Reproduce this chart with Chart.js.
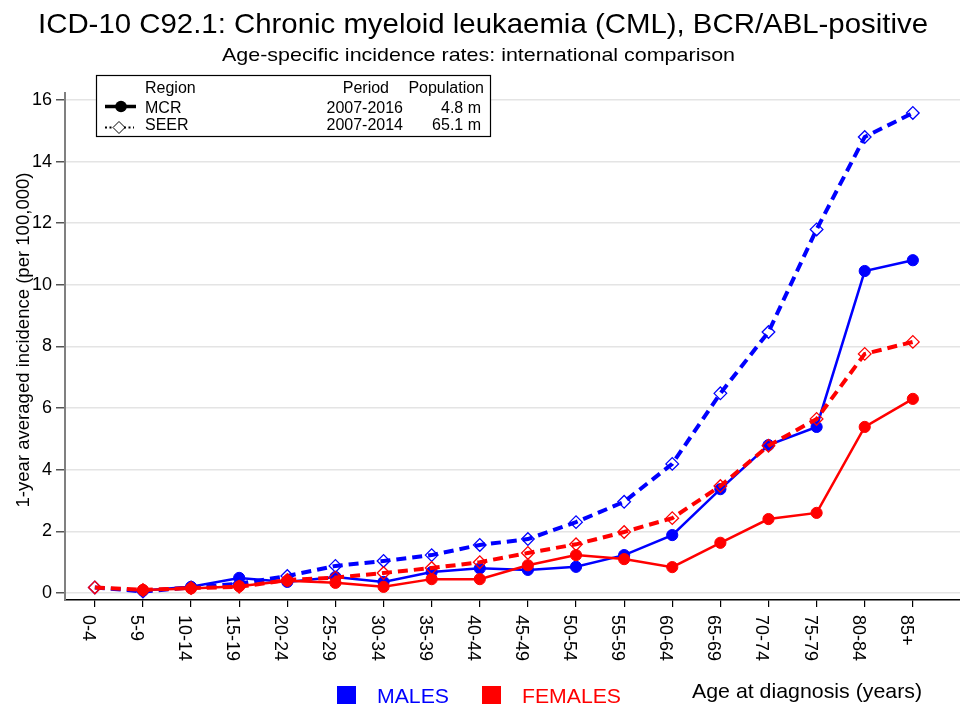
<!DOCTYPE html>
<html>
<head>
<meta charset="utf-8">
<script src="https://cdn.jsdelivr.net/npm/chart.js@4.4.1/dist/chart.umd.min.js"></script>
<style>
  html, body { margin: 0; padding: 0; background: #fff; }
  #wrap { width: 960px; height: 709px; }
</style>
</head>
<body>
<div id="wrap"><canvas id="chart" width="960" height="709"></canvas></div>
<script>
  // age groups on the x axis
  const ageGroups = ["0-4", "5-9", "10-14", "15-19", "20-24", "25-29", "30-34", "35-39", "40-44",
    "45-49", "50-54", "55-59", "60-64", "65-69", "70-74", "75-79", "80-84", "85+"];

  // rates per 100,000
  const malesMCR = [null, 0.08, 0.2, 0.49, 0.36, 0.52, 0.36, 0.68, 0.8, 0.75, 0.85, 1.23, 1.88, 3.37, 4.8, 5.39, 10.45, 10.8];
  const femalesMCR = [null, 0.1, 0.15, 0.22, 0.4, 0.33, 0.2, 0.45, 0.45, 0.9, 1.23, 1.1, 0.84, 1.63, 2.4, 2.6, 5.39, 6.3];
  const malesSEER = [0.18, 0.05, 0.18, 0.3, 0.55, 0.88, 1.04, 1.23, 1.56, 1.75, 2.3, 2.96, 4.19, 6.48, 8.47, 11.8, 14.8, 15.58];
  const femalesSEER = [0.18, 0.1, 0.16, 0.2, 0.42, 0.5, 0.65, 0.81, 1.0, 1.3, 1.58, 1.98, 2.43, 3.47, 4.78, 5.65, 7.76, 8.15];

  const yTicks = [0, 2, 4, 6, 8, 10, 12, 14, 16];

  const legendRows = [
    { region: "MCR", period: "2007-2016", population: "4.8 m" },
    { region: "SEER", period: "2007-2014", population: "65.1 m" }
  ];

  const FONT = "'Liberation Sans', Arial, Helvetica, sans-serif";
  const BLUE = "#0000ff";
  const RED = "#ff0000";

  const toPoints = (arr) => arr.map((v, i) => ({ x: i, y: v }));

  // text squeezed horizontally to a given width, like the Stata output
  function fitText(ctx, text, x, y, size, width, color) {
    ctx.save();
    ctx.font = size + "px " + FONT;
    ctx.fillStyle = color || "#000";
    ctx.textAlign = "left";
    ctx.textBaseline = "alphabetic";
    const w = ctx.measureText(text).width;
    ctx.translate(x, y);
    if (width) ctx.scale(width / w, 1);
    ctx.fillText(text, 0, 0);
    ctx.restore();
  }

  const decorPlugin = {
    id: "decorPlugin",
    afterDraw(chart) {
      const { ctx } = chart;
      const xScale = chart.scales.x;

      // titles
      fitText(ctx, "ICD-10 C92.1: Chronic myeloid leukaemia (CML), BCR/ABL-positive", 38, 33, 28, 890);
      fitText(ctx, "Age-specific incidence rates: international comparison", 222, 61, 18.5, 513);

      // y axis title
      ctx.save();
      ctx.font = "18.5px " + FONT;
      ctx.fillStyle = "#000";
      const yTitle = "1-year averaged incidence (per 100,000)";
      const tw = ctx.measureText(yTitle).width;
      ctx.translate(29, 340);
      ctx.rotate(-Math.PI / 2);
      ctx.scale(335 / tw, 1);
      ctx.textAlign = "center";
      ctx.textBaseline = "alphabetic";
      ctx.fillText(yTitle, 0, 0);
      ctx.restore();

      // x tick labels, turned clockwise
      ctx.save();
      ctx.font = "18px " + FONT;
      ctx.fillStyle = "#000";
      ctx.textAlign = "left";
      ctx.textBaseline = "alphabetic";
      ageGroups.forEach((label, i) => {
        const px = xScale.getPixelForValue(i);
        ctx.save();
        ctx.translate(px - 12, 615);
        ctx.rotate(Math.PI / 2);
        ctx.fillText(label, 0, 0);
        ctx.restore();
      });
      ctx.restore();

      // bottom legend + x title
      ctx.fillStyle = BLUE;
      ctx.fillRect(337, 686, 19, 18);
      fitText(ctx, "MALES", 377, 703, 21, 72, BLUE);
      ctx.fillStyle = RED;
      ctx.fillRect(482, 686, 19, 18);
      fitText(ctx, "FEMALES", 522, 703, 21, 99, RED);
      fitText(ctx, "Age at diagnosis (years)", 692, 698, 21, 230, "#000");

      // region legend box
      ctx.save();
      ctx.fillStyle = "#fff";
      ctx.fillRect(96, 75, 394, 62);
      ctx.strokeStyle = "#000";
      ctx.lineWidth = 1.2;
      ctx.strokeRect(96.5, 75.5, 394, 61);

      ctx.font = "16px " + FONT;
      ctx.fillStyle = "#000";
      ctx.textBaseline = "alphabetic";
      ctx.textAlign = "left";
      ctx.fillText("Region", 145, 92.5);
      ctx.textAlign = "right";
      ctx.fillText("Period", 389, 92.5);
      ctx.fillText("Population", 484, 92.5);

      const rowY = [112.5, 129.5];
      legendRows.forEach((row, i) => {
        ctx.textAlign = "left";
        ctx.fillText(row.region, 145, rowY[i]);
        ctx.textAlign = "right";
        ctx.fillText(row.period, 403, rowY[i]);
        ctx.fillText(row.population, 481, rowY[i]);
      });

      // solid line + dot
      ctx.strokeStyle = "#000";
      ctx.lineWidth = 3.5;
      ctx.beginPath();
      ctx.moveTo(105, 106.5);
      ctx.lineTo(136, 106.5);
      ctx.stroke();
      ctx.beginPath();
      ctx.arc(121, 106.5, 5.8, 0, Math.PI * 2);
      ctx.fill();

      // dotted line + hollow diamond
      ctx.lineWidth = 2;
      ctx.setLineDash([2, 2.5]);
      ctx.beginPath();
      ctx.moveTo(105, 127.5);
      ctx.lineTo(114, 127.5);
      ctx.moveTo(124, 127.5);
      ctx.lineTo(134, 127.5);
      ctx.stroke();
      ctx.setLineDash([]);
      ctx.lineWidth = 1;
      ctx.beginPath();
      ctx.moveTo(113, 127.5);
      ctx.lineTo(119, 121.5);
      ctx.lineTo(125, 127.5);
      ctx.lineTo(119, 133.5);
      ctx.closePath();
      ctx.stroke();
      ctx.restore();
    }
  };

  function mcrDataset(label, data, color, order) {
    return {
      label,
      data: toPoints(data),
      borderColor: color,
      backgroundColor: color,
      borderWidth: 2.5,
      pointStyle: "circle",
      pointRadius: 5.6,
      pointBorderWidth: 1,
      pointBorderColor: color,
      pointBackgroundColor: color,
      tension: 0,
      order
    };
  }

  function seerDataset(label, data, color, order) {
    return {
      label,
      data: toPoints(data),
      borderColor: color,
      backgroundColor: "rgba(0,0,0,0)",
      borderWidth: 4,
      borderDash: [10, 6],
      borderCapStyle: "butt",
      pointStyle: "rectRot",
      pointRadius: 6.3,
      pointBorderWidth: 1.3,
      pointBorderColor: color,
      pointBackgroundColor: "rgba(0,0,0,0)",
      tension: 0,
      order
    };
  }

  new Chart(document.getElementById("chart"), {
    type: "line",
    data: {
      datasets: [
        seerDataset("SEER females", femalesSEER, RED, 1),
        mcrDataset("MCR females", femalesMCR, RED, 2),
        mcrDataset("MCR males", malesMCR, BLUE, 3),
        seerDataset("SEER males", malesSEER, BLUE, 4)
      ]
    },
    options: {
      responsive: false,
      devicePixelRatio: 1,
      animation: false,
      layout: { autoPadding: false, padding: { top: 93, left: 0, right: 0, bottom: 0 } },
      plugins: {
        legend: { display: false },
        tooltip: { enabled: false },
        title: { display: false }
      },
      scales: {
        x: {
          type: "linear",
          min: -0.62,
          max: 17.98,
          afterBuildTicks: (s) => { s.ticks = ageGroups.map((_, i) => ({ value: i })); },
          afterFit: (s) => { s.height = 109; },
          ticks: { display: false },
          grid: {
            drawOnChartArea: false,
            drawTicks: true,
            tickLength: 7,
            tickColor: "#000",
            lineWidth: 1.2
          },
          border: { color: "#000", width: 1.5 }
        },
        y: {
          type: "linear",
          min: -0.227,
          max: 16.227,
          afterBuildTicks: (s) => { s.ticks = yTicks.map((v) => ({ value: v })); },
          afterFit: (s) => { s.width = 65; },
          ticks: {
            color: "#000",
            padding: 4,
            font: { size: 18, family: FONT }
          },
          grid: {
            color: "#e4e4e4",
            lineWidth: 1.5,
            tickColor: "#555",
            tickLength: 9
          },
          border: { color: "#808080", width: 2 }
        }
      }
    },
    plugins: [decorPlugin]
  });
</script>
</body>
</html>
